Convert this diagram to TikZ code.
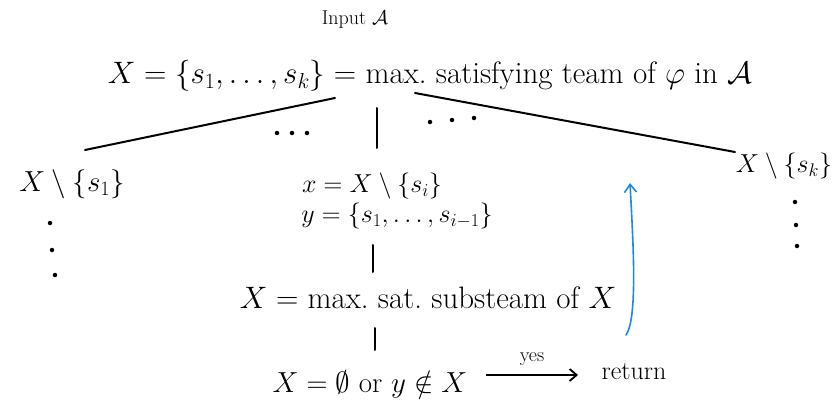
\RequirePackage{fix-cm}
\documentclass[tikz,border=0pt]{standalone}
\usepackage{amssymb}
\usetikzlibrary{arrows.meta}
\begin{document}
\begin{tikzpicture}[x=1pt,y=-1pt,
  big/.style={inner sep=0pt,anchor=center,font=\fontsize{31}{36}\selectfont},
  txt/.style={inner sep=0pt,anchor=center,font=\fontsize{29}{34}\selectfont},
  mid/.style={inner sep=0pt,anchor=center,font=\fontsize{26}{30}\selectfont},
  small/.style={inner sep=0pt,anchor=center,font=\fontsize{20}{24}\selectfont},
  edge/.style={line width=2pt,line cap=round},
  dot/.style={circle,fill=black,inner sep=0pt,minimum size=4.5pt},
  blueline/.style={line width=1.6pt,line cap=round,draw={rgb,255:red,30;green,136;blue,229},-{Straight Barb[length=8pt,width=12pt]}}]
\useasboundingbox (0,0) rectangle (836,412);
% texts
\node[small] (input) at (355,20) {Input $\mathcal{A}$};
\node[big] (top) at (430,76) {$X = \{s_1,\dots,s_k\} = $ max.\ satisfying team of $\varphi$ in $\mathcal{A}$};
\node[txt] (x1) at (72,184) {$X\setminus\{s_1\}$};
\node[mid] (xk) at (784,166) {$X\setminus\{s_k\}$};
\node[mid] (xi) at (372,186) {$x = X\setminus\{s_i\}$};
\node[mid] (yi) at (397,216) {$y = \{s_1,\dots,s_{i-1}\}$};
\node[big] (maxsat) at (428,298) {$X =$ max.\ sat.\ substeam of $X$};
\node[txt] (cond) at (370,384) {$X = \emptyset$ or $y \notin X$};
\node[mid] (ret) at (634,372) {return};
% coordinates for connector ends
\coordinate (tl) at (335,98);
\coordinate (tm) at (377,108);
\coordinate (tr) at (415,93);
\coordinate (l1) at (85,150);
\coordinate (m1) at (377,148);
\coordinate (r1) at (735,152);
\coordinate (v1a) at (373,245);
\coordinate (v1b) at (373,272);
\coordinate (v2a) at (375,328);
\coordinate (v2b) at (375,350);
\coordinate (aa) at (486,375);
\coordinate (ab) at (578,375);
\coordinate (ba) at (626,335);
\coordinate (bb) at (630,183);
% connectors
\draw[edge] (tl) -- (l1);
\draw[edge] (tm) -- (m1);
\draw[edge] (tr) -- (r1);
\draw[edge] (v1a) -- (v1b);
\draw[edge] (v2a) -- (v2b);
\draw[line width=1.8pt,-{Straight Barb[length=7pt,width=12pt]}] (aa) -- node[small,above=9pt] (yes) {yes} (ab);
\draw[blueline] (ba) .. controls (638,318) and (633,240) .. (bb);
% dots
\node[dot] (d1) at (277,133) {};
\node[dot] (d2) at (292,133) {};
\node[dot] (d3) at (307,133) {};
\node[dot] (d4) at (430,122) {};
\node[dot] (d5) at (452,120) {};
\node[dot] (d6) at (474,118) {};
\node[dot] (d7) at (50,223) {};
\node[dot] (d8) at (52,250) {};
\node[dot] (d9) at (55,275) {};
\node[dot] (d10) at (795,202) {};
\node[dot] (d11) at (796,225) {};
\node[dot] (d12) at (797,246) {};
\end{tikzpicture}
\end{document}
